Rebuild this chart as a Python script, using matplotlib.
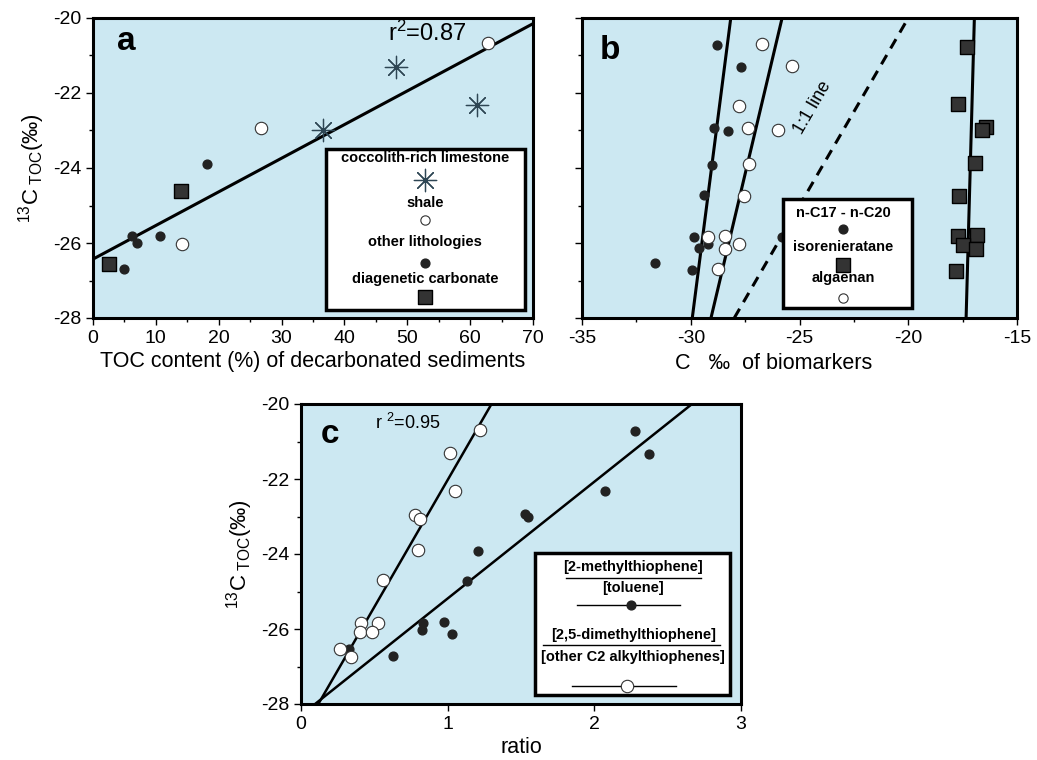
import numpy as np
import matplotlib.pyplot as plt
from matplotlib.patches import Rectangle

plt.rcParams['font.family'] = ['Liberation Sans', 'DejaVu Sans']
plt.rcParams['mathtext.fontset'] = 'custom'
plt.rcParams['mathtext.rm'] = 'Liberation Sans'
plt.rcParams['mathtext.it'] = 'Liberation Sans:italic'
plt.rcParams['axes.unicode_minus'] = False

# ---- panel a : TOC content vs d13C TOC ----
a_cocco_x = [48.2, 61.1, 36.6]
a_cocco_y = [-21.3, -22.32, -23.0]
a_shale_x = [62.9, 26.7, 14.2]
a_shale_y = [-20.68, -22.92, -26.03]
a_other_x = [18.2, 6.15, 6.95, 10.66, 4.88]
a_other_y = [-23.9, -25.8, -25.99, -25.8, -26.70]
a_diag_x = [14.0, 2.5]
a_diag_y = [-24.6, -26.56]
a_fit = (0.0897, -26.43)   # slope, intercept

# ---- panel b : biomarkers vs d13C TOC ----
b_alk_x = [-28.78, -27.69, -28.92, -28.29, -29.01, -29.39, -29.84, -29.62, -29.22, -31.66, -29.93, -25.79]
b_alk_y = [-20.72, -21.32, -22.92, -23.01, -23.92, -24.72, -25.83, -26.12, -26.03, -26.52, -26.72, -25.85]
b_alg_x = [-26.72, -25.34, -27.78, -27.35, -25.97, -27.32, -27.57, -29.22, -28.43, -28.43, -27.80, -28.76]
b_alg_y = [-20.69, -21.28, -22.36, -22.92, -22.99, -23.89, -24.75, -25.83, -25.81, -26.17, -26.03, -26.68]
b_iso_x = [-17.29, -17.73, -16.43, -16.61, -16.92, -17.65, -17.73, -16.83, -17.47, -16.90, -17.82]
b_iso_y = [-20.76, -22.30, -22.90, -23.00, -23.88, -24.74, -25.81, -25.78, -26.05, -26.16, -26.74]
b_fit_y = [-28, -20]
b_fit_alk = [-29.93, -28.16]   # x at y=-28 and y=-20
b_fit_alg = [-29.07, -25.80]
b_fit_iso = [-17.34, -16.96]

# ---- panel c : ratios vs d13C TOC ----
c_tol_x = [2.276, 2.374, 2.076, 1.527, 1.547, 1.205, 1.132, 0.832, 0.823, 0.977, 1.030, 0.328, 0.629]
c_tol_y = [-20.73, -21.33, -22.32, -22.93, -23.02, -23.92, -24.72, -25.83, -26.03, -25.82, -26.12, -26.52, -26.72]
c_dmt_x = [1.219, 1.014, 1.048, 0.779, 0.813, 0.795, 0.556, 0.410, 0.522, 0.401, 0.485, 0.267, 0.342]
c_dmt_y = [-20.68, -21.30, -22.33, -22.96, -23.06, -23.88, -24.69, -25.83, -25.83, -26.07, -26.07, -26.52, -26.74]
c_fit_y = [-28, -20]
c_fit_dmt = [0.118, 1.299]
c_fit_tol = [0.096, 2.666]

BG = '#cce8f2'
DOT = '#222222'
W, H = 1037, 760
fig = plt.figure(figsize=(W / 100, H / 100), dpi=100)


def make_ax(l, t, r, b):
    ax = fig.add_axes([l / W, 1 - b / H, (r - l) / W, (b - t) / H])
    ax.set_facecolor(BG)
    for s in ax.spines.values():
        s.set_linewidth(2.2)
    ax.tick_params(which='both', direction='out', labelsize=14, width=1)
    ax.tick_params(which='major', length=5)
    ax.tick_params(which='minor', length=3)
    ax.set_ylim(-28, -20)
    ax.set_yticks([-28, -26, -24, -22, -20])
    ax.set_yticks(np.arange(-27, -20, 2), minor=True)
    return ax


ylab = r'$^{13}$C$_{\rm\ TOC}$(‰)'


def legend_box(ax, x0, x1, y0, y1):
    ax.add_patch(Rectangle((x0, y0), x1 - x0, y1 - y0, transform=ax.transAxes,
                           fc='white', ec='black', lw=2.5, zorder=6, clip_on=False))


def key_text(ax, x, y, s, size=10.5):
    ax.text(x, y, s, transform=ax.transAxes, ha='center', va='center',
            fontsize=size, fontweight='bold', zorder=7)


# ================= a =================
ax = make_ax(93, 18, 533, 318)
ax.set_xlim(0, 70)
ax.set_xticks(range(0, 71, 10))
ax.set_xticks(range(5, 70, 10), minor=True)
ax.set_xlabel('TOC content (%) of decarbonated sediments', fontsize=15.5, labelpad=3)
ax.set_ylabel(ylab, fontsize=16, labelpad=4)
xs = np.array([0, 70])
ax.plot(xs, a_fit[0] * xs + a_fit[1], color='black', lw=2.2, zorder=3)
ax.scatter(a_cocco_x, a_cocco_y, marker=(8, 2, 0), s=260, color='#2e4654', lw=0.9, zorder=4)
ax.scatter(a_shale_x, a_shale_y, marker='o', s=80, fc='white', ec='#333333', lw=0.8, zorder=4)
ax.scatter(a_other_x, a_other_y, marker='o', s=40, color=DOT, zorder=4)
ax.scatter(a_diag_x, a_diag_y, marker='s', s=110, fc='#333333', ec='black', lw=1, zorder=4)
ax.text(0.075, 0.92, 'a', transform=ax.transAxes, fontsize=24, fontweight='bold', ha='center', va='center')
ax.text(0.76, 0.95, r'r$^{2}$=0.87', transform=ax.transAxes, fontsize=17, ha='center', va='center')
legend_box(ax, 0.53, 0.982, 0.027, 0.563)
cx = 0.755
key_text(ax, cx, 0.533, 'coccolith-rich limestone')
ax.scatter([cx], [0.46], transform=ax.transAxes, marker=(8, 2, 0), s=260, color='#2e4654', lw=0.9, zorder=7)
key_text(ax, cx, 0.382, 'shale')
ax.scatter([cx], [0.327], transform=ax.transAxes, marker='o', s=45, fc='white', ec='#333333', lw=0.8, zorder=7)
key_text(ax, cx, 0.254, 'other lithologies')
ax.scatter([cx], [0.184], transform=ax.transAxes, marker='o', s=40, color=DOT, zorder=7)
key_text(ax, cx, 0.129, 'diagenetic carbonate')
ax.scatter([cx], [0.071], transform=ax.transAxes, marker='s', s=110, fc='#333333', ec='black', zorder=7)

# ================= b =================
ax = make_ax(582, 18, 1017, 318)
ax.set_xlim(-35, -15)
ax.set_xticks(range(-35, -14, 5))
ax.set_xticks(np.arange(-32.5, -15, 5), minor=True)
ax.set_yticklabels([])
ax.set_xlabel('C   ‰  of biomarkers', fontsize=15.5, labelpad=3)
ax.xaxis.set_label_coords(0.44, -0.115)
ax.plot(b_fit_alk, b_fit_y, color='black', lw=2.2, zorder=3)
ax.plot(b_fit_alg, b_fit_y, color='black', lw=2.2, zorder=3)
ax.plot(b_fit_iso, b_fit_y, color='black', lw=2.2, zorder=3)
ax.plot(b_fit_y, b_fit_y, color='black', lw=2.2, ls=(0, (3.5, 2.5)), zorder=3)
ax.text(-24.4, -22.4, '1:1 line', fontsize=13, rotation=60, ha='center', va='center')
ax.scatter(b_alk_x, b_alk_y, marker='o', s=40, color=DOT, zorder=4)
ax.scatter(b_alg_x, b_alg_y, marker='o', s=80, fc='white', ec='#333333', lw=0.8, zorder=4)
ax.scatter(b_iso_x, b_iso_y, marker='s', s=110, fc='#333333', ec='black', lw=1, zorder=4)
ax.text(0.064, 0.893, 'b', transform=ax.transAxes, fontsize=24, fontweight='bold', ha='center', va='center')
legend_box(ax, 0.462, 0.759, 0.033, 0.397)
cx = 0.601
key_text(ax, cx, 0.349, 'n-C17 - n-C20')
ax.scatter([cx], [0.296], transform=ax.transAxes, marker='o', s=40, color=DOT, zorder=7)
key_text(ax, cx, 0.238, 'isorenieratane')
ax.scatter([cx], [0.177], transform=ax.transAxes, marker='s', s=110, fc='#333333', ec='black', zorder=7)
key_text(ax, cx, 0.132, 'algaenan')
ax.scatter([cx], [0.068], transform=ax.transAxes, marker='o', s=45, fc='white', ec='#333333', lw=0.8, zorder=7)

# ================= c =================
ax = make_ax(301, 404, 741, 704)
ax.set_xlim(0, 3)
ax.set_xticks([0, 1, 2, 3])
ax.set_xlabel('ratio', fontsize=15.5, labelpad=3)
ax.set_ylabel(ylab, fontsize=16, labelpad=4)
ax.plot(c_fit_dmt, c_fit_y, color='black', lw=1.8, zorder=3)
ax.plot(c_fit_tol, c_fit_y, color='black', lw=1.8, zorder=3)
ax.scatter(c_tol_x, c_tol_y, marker='o', s=40, color=DOT, zorder=4)
ax.scatter(c_dmt_x, c_dmt_y, marker='o', s=80, fc='white', ec='#333333', lw=0.8, zorder=4)
ax.text(0.066, 0.897, 'c', transform=ax.transAxes, fontsize=24, fontweight='bold', ha='center', va='center')
ax.text(0.243, 0.937, r'r $^{2}$=0.95', transform=ax.transAxes, fontsize=13, ha='center', va='center')
legend_box(ax, 0.532, 0.975, 0.03, 0.503)
cx = 0.755
key_text(ax, cx, 0.458, '[2-methylthiophene]')
ax.plot([0.602, 0.909], [0.421, 0.421], transform=ax.transAxes, color='black', lw=1, zorder=7)
key_text(ax, cx, 0.388, '[toluene]')
ax.plot([0.627, 0.861], [0.329, 0.329], transform=ax.transAxes, color='black', lw=1, zorder=7)
ax.scatter([0.749], [0.329], transform=ax.transAxes, marker='o', s=40, color=DOT, zorder=8)
key_text(ax, cx, 0.23, '[2,5-dimethylthiophene]')
ax.plot([0.55, 0.952], [0.197, 0.197], transform=ax.transAxes, color='black', lw=1, zorder=7)
key_text(ax, cx, 0.158, '[other C2 alkylthiophenes]')
ax.plot([0.616, 0.852], [0.06, 0.06], transform=ax.transAxes, color='black', lw=1, zorder=7)
ax.scatter([0.741], [0.06], transform=ax.transAxes, marker='o', s=80, fc='white', ec='#333333', lw=0.8, zorder=8)

fig.savefig('out.png', dpi=100)
